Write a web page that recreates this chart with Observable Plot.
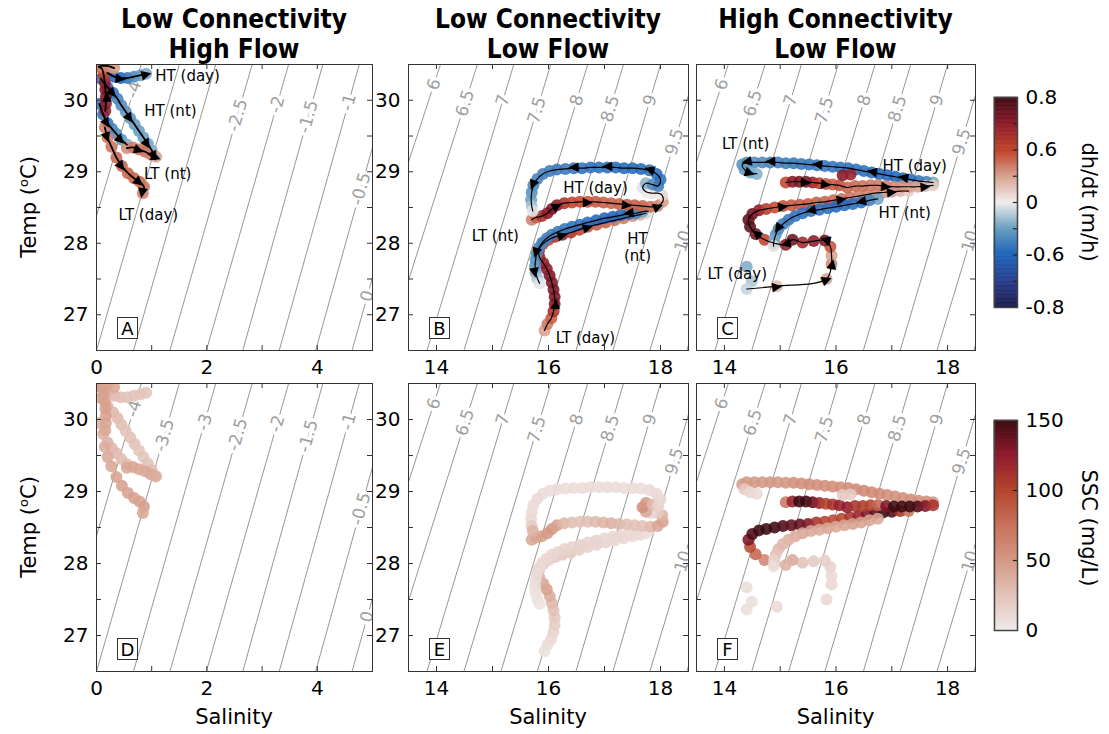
<!DOCTYPE html>
<html><head><meta charset="utf-8">
<script src="https://cdn.jsdelivr.net/npm/d3@7"></script>
<script src="https://cdn.jsdelivr.net/npm/@observablehq/plot@0.6"></script>
<style>
body{margin:0;background:#fff;}
#fig{position:relative;width:1109px;height:734px;overflow:hidden;background:#fff;font-family:"DejaVu Sans",sans-serif;color:#000;}
.title{position:absolute;text-align:center;font-weight:bold;font-family:"DejaVu Sans Condensed","DejaVu Sans",sans-serif;font-stretch:condensed;font-size:26px;line-height:30px;white-space:nowrap;}
.lab{position:absolute;font-size:21px;white-space:nowrap;transform:translate(-50%,-50%);}
.letter{position:absolute;border:1px solid #333;background:#fff;font-size:18px;width:19px;height:20px;line-height:21px;text-align:center;}
svg{overflow:visible;}
</style></head><body><div id="fig"></div>
<script>
// ---------------- data ----------------
const tempRange = [26.5, 30.5];
const tempTicks = [27, 28, 29, 30];
const tempMinor = [27, 27.5, 28, 28.5, 29, 29.5, 30];
const salRangeA = [0, 5];
const salRangeB = [13.5, 18.5];
const salTicksA = [0, 2, 4];
const salMinorA = [1, 2, 3, 4];
const salTicksB = [14, 16, 18];
const salMinorB = [14, 15, 16, 17, 18];

const titles = [["Low Connectivity", "High Flow"], ["Low Connectivity", "Low Flow"], ["High Connectivity", "Low Flow"]];
const panelLetters = ["A", "B", "C", "D", "E", "F"];

// isopycnals (sigma): salinity where each line meets T=30.5 (top) and T=26.5 (bottom), label temperature
const isoLevelsA = [-4, -3.5, -3, -2.5, -2, -1.5, -1, -0.5, 0];
const isoTopA = [0.81, 1.50, 2.16, 2.82, 3.48, 4.10, 4.76, 5.42, 6.08];
const isoBotA = [-0.72, 0.00, 0.67, 1.33, 1.99, 2.65, 3.31, 3.97, 4.63];
const isoLabTA = [30.15, 29.78, 29.96, 29.79, 29.94, 29.77, 29.97, 28.76, 27.26];
const isoShownA = [-4, -2.5, -2, -1.5, -1, -0.5, 0];
const isoShownD = [-4, -3.5, -3, -2.5, -2, -1.5, -1, -0.5, 0];
const isoLevelsB = [6, 6.5, 7, 7.5, 8, 8.5, 9, 9.5, 10, 10.5];
const isoTopB = [14.07, 14.73, 15.38, 16.04, 16.70, 17.34, 18.00, 18.66, 19.36, 20.02];
const isoBotB = [12.40, 13.10, 13.83, 14.49, 15.15, 15.80, 16.49, 17.15, 17.81, 18.47];
const isoLabTB = [30.22, 29.96, 30.0, 29.86, 30.0, 29.88, 30.0, 29.42, 28.03, 28.0];
const isoShownB = [6, 6.5, 7, 7.5, 8, 8.5, 9, 9.5, 10];

// tracks: [salinity, temp, dh/dt (m/h), SSC (mg/L), segment, arrowhead]
const trackA = [
[0.20,30.38,-0.40,38,2,0],[0.32,30.33,-0.58,30,2,0],[0.44,30.31,-0.60,28,2,1],[0.56,30.31,-0.52,26,2,0],
[0.68,30.33,-0.42,25,2,0],[0.80,30.35,-0.33,24,2,0],[0.90,30.37,-0.25,24,2,1],
[0.08,30.30,-0.52,40,3,0],[0.20,30.18,-0.56,35,3,0],[0.30,30.10,-0.52,32,3,1],[0.38,30.02,-0.45,30,3,0],
[0.45,29.93,-0.40,28,3,0],[0.53,29.84,-0.36,26,3,0],[0.61,29.75,-0.34,25,3,1],[0.69,29.66,-0.32,25,3,0],
[0.77,29.57,-0.30,24,3,0],[0.85,29.48,-0.30,24,3,0],[0.93,29.39,-0.28,25,3,1],[1.00,29.30,-0.25,28,3,0],
[1.05,29.22,-0.15,32,3,1],
[0.05,29.95,-0.50,35,4,0],[0.12,29.80,-0.52,35,4,0],[0.20,29.68,-0.50,35,4,1],[0.28,29.60,-0.45,32,4,0],
[0.36,29.53,-0.40,30,4,0],[0.45,29.45,-0.35,28,4,1],[0.55,29.38,-0.25,30,4,0],
[0.55,29.33,0.35,40,5,0],[0.66,29.34,0.42,42,5,0],[0.77,29.31,0.45,42,5,1],[0.88,29.28,0.45,40,5,0],
[0.98,29.24,0.40,40,5,0],[1.08,29.21,0.30,38,5,1],
[0.15,29.62,0.40,38,6,0],[0.20,29.48,0.42,40,6,1],[0.27,29.35,0.45,42,6,0],[0.36,29.20,0.48,45,6,0],
[0.46,29.08,0.50,45,6,1],[0.57,28.98,0.50,45,6,0],[0.68,28.91,0.50,45,6,0],[0.78,28.86,0.48,45,6,1],
[0.86,28.79,0.45,45,6,0],[0.84,28.70,0.40,42,6,1],
[0.16,29.85,0.68,40,1,0],[0.17,29.95,0.70,42,1,0],[0.17,30.05,0.72,44,1,1],[0.16,30.15,0.72,45,1,0],
[0.15,30.25,0.70,45,1,0],[0.13,30.35,0.62,45,1,0],[0.10,30.44,0.50,45,1,0],[0.04,30.47,0.42,46,1,0],
[0.20,30.48,0.38,44,1,0],[0.32,30.45,0.32,42,1,0]
];

const trackB = [
[15.93,26.78,0.30,6,1,0],[15.98,26.87,0.42,8,1,0],[16.05,26.95,0.52,10,1,0],[16.09,27.05,0.64,14,1,0],
[16.11,27.15,0.70,18,1,1],[16.11,27.25,0.72,22,1,0],[16.09,27.35,0.72,26,1,0],[16.06,27.45,0.72,32,1,0],
[16.02,27.55,0.72,38,1,0],[15.97,27.64,0.70,44,1,0],[15.91,27.72,0.70,42,1,0],[15.84,27.80,0.68,35,1,0],
[15.83,27.90,0.64,26,1,0],[15.90,27.99,0.60,20,1,0],[16.00,28.05,0.60,18,1,0],[16.12,28.09,0.64,20,1,0],
[16.25,28.12,0.68,22,1,1],[16.40,28.15,0.64,20,1,0],[16.55,28.19,0.60,18,1,0],[16.70,28.23,0.56,16,1,1],
[16.86,28.26,0.52,15,1,0],[17.02,28.29,0.50,14,1,0],[17.18,28.32,0.46,12,1,0],[17.34,28.35,0.42,12,1,0],
[17.50,28.38,0.36,10,1,0],[17.64,28.40,0.26,10,1,0],[17.74,28.42,0.12,8,1,0],
[17.78,28.45,-0.05,6,2,0],[17.68,28.44,-0.28,8,2,0],[17.56,28.42,-0.45,10,2,0],[17.43,28.41,-0.55,10,2,1],
[17.29,28.39,-0.58,12,2,0],[17.15,28.37,-0.60,12,2,0],[17.00,28.35,-0.60,12,2,0],[16.85,28.32,-0.58,14,2,0],
[16.70,28.29,-0.56,14,2,0],[16.56,28.26,-0.55,16,2,0],[16.42,28.23,-0.54,16,2,0],[16.29,28.20,-0.52,15,2,0],
[16.17,28.16,-0.50,14,2,0],[16.06,28.12,-0.48,13,2,0],[15.97,28.07,-0.46,12,2,0],[15.89,28.01,-0.44,12,2,0],
[15.83,27.94,-0.42,11,2,0],[15.79,27.86,-0.40,10,2,1],[15.77,27.77,-0.38,9,2,0],[15.76,27.68,-0.34,8,2,0],
[15.77,27.59,-0.28,7,2,1],[15.80,27.51,-0.16,6,2,0],[15.84,27.44,-0.04,5,2,0],
[15.70,28.33,0.40,40,3,0],[15.78,28.36,0.52,42,3,0],[15.88,28.38,0.64,45,3,0],[15.98,28.42,0.70,48,3,0],
[16.06,28.48,0.72,50,3,0],[16.15,28.53,0.70,45,3,1],[16.28,28.56,0.64,32,3,0],[16.42,28.57,0.60,28,3,0],
[16.56,28.58,0.58,26,3,0],[16.70,28.58,0.56,28,3,1],[16.84,28.58,0.54,30,3,0],[16.98,28.57,0.52,34,3,0],
[17.12,28.56,0.50,36,3,0],[17.26,28.55,0.50,32,3,0],[17.40,28.54,0.52,28,3,1],[17.54,28.53,0.52,26,3,0],
[17.68,28.52,0.50,26,3,0],[17.82,28.51,0.46,30,3,0],[17.95,28.52,0.40,40,3,1],[18.04,28.58,0.32,45,3,0],
[18.03,28.67,0.10,35,3,0],[17.95,28.70,0.00,20,3,0],[17.84,28.70,0.04,12,3,0],[17.74,28.72,0.02,40,3,0],
[17.68,28.78,-0.04,55,3,0],[17.74,28.84,-0.22,50,3,0],[17.86,28.82,-0.40,30,3,0],[17.96,28.80,-0.48,15,3,0],
[18.00,28.89,-0.52,12,3,0],[17.93,28.97,-0.55,10,3,0],[17.80,29.02,-0.56,10,3,1],[17.65,29.04,-0.58,9,3,0],
[17.50,29.05,-0.58,9,3,0],[17.35,29.05,-0.58,9,3,0],[17.20,29.06,-0.57,9,3,0],[17.05,29.06,-0.56,9,3,1],
[16.90,29.06,-0.55,9,3,0],[16.75,29.06,-0.54,9,3,0],[16.60,29.05,-0.53,9,3,0],[16.45,29.05,-0.52,9,3,1],
[16.30,29.04,-0.51,9,3,0],[16.15,29.03,-0.50,9,3,0],[16.02,29.01,-0.48,9,3,0],[15.90,28.97,-0.46,9,3,0],
[15.80,28.90,-0.44,10,3,0],[15.73,28.81,-0.42,10,3,1],[15.70,28.71,-0.38,10,3,0],[15.69,28.61,-0.30,12,3,0],
[15.70,28.52,-0.16,20,3,0],[15.72,28.45,-0.04,35,3,0]
];

const trackC = [
[14.40,27.67,-0.25,8,0,0],[14.49,27.47,-0.15,8,0,0],
[14.40,27.36,-0.10,8,1,0],[14.94,27.40,0.20,10,1,1],[15.83,27.50,0.30,12,1,1],[15.92,27.71,0.38,12,1,1],
[15.92,27.83,0.30,10,1,0],[15.90,27.95,0.55,15,1,0],[15.80,28.04,0.72,18,1,1],[15.60,28.03,0.70,20,1,0],
[15.40,28.01,0.66,25,1,0],[15.22,28.05,0.74,40,1,0],[15.10,27.98,0.70,35,1,1],[14.90,28.00,0.50,30,1,0],
[14.72,28.05,0.60,60,1,0],[14.56,28.13,0.74,80,1,1],[14.46,28.23,0.76,95,1,0],[14.43,28.33,0.76,130,1,0],
[14.50,28.41,0.74,145,1,0],[14.62,28.46,0.70,150,1,0],[14.75,28.48,0.62,150,1,0],[14.90,28.50,0.58,150,1,0],
[15.05,28.52,0.56,145,1,1],[15.20,28.53,0.54,140,1,0],[15.35,28.54,0.54,140,1,0],[15.50,28.55,0.54,130,1,0],
[15.65,28.57,0.52,110,1,0],[15.80,28.58,0.50,100,1,0],[15.95,28.60,0.48,95,1,0],[16.10,28.62,0.46,100,1,1],
[16.25,28.64,0.45,110,1,0],[16.40,28.66,0.42,120,1,0],[16.55,28.68,0.40,130,1,0],[16.70,28.70,0.38,140,1,0],
[16.85,28.71,0.35,150,1,0],[17.00,28.72,0.30,145,1,1],[17.15,28.73,0.22,110,1,0],[17.30,28.73,0.12,70,1,0],
[16.75,28.62,-0.28,40,2,0],[16.60,28.60,-0.45,42,2,0],[16.45,28.57,-0.54,45,2,1],[16.30,28.55,-0.56,45,2,0],
[16.15,28.53,-0.58,42,2,0],[16.00,28.51,-0.58,40,2,0],[15.85,28.49,-0.56,40,2,0],[15.70,28.47,-0.55,40,2,0],
[15.55,28.45,-0.55,40,2,1],[15.40,28.42,-0.54,40,2,0],[15.27,28.38,-0.52,38,2,0],[15.15,28.33,-0.50,35,2,0],
[15.05,28.27,-0.48,32,2,0],[14.97,28.20,-0.44,30,2,1],[14.92,28.12,-0.38,25,2,0],[14.89,28.04,-0.26,15,2,0],
[14.88,27.96,-0.05,8,2,0],
[17.74,28.85,-0.28,50,3,0],[17.62,28.86,-0.45,55,3,0],[17.48,28.87,-0.52,55,3,0],[17.34,28.89,-0.56,55,3,0],
[17.20,28.91,-0.58,55,3,1],[17.06,28.93,-0.60,55,3,0],[16.92,28.95,-0.60,55,3,0],[16.78,28.97,-0.58,58,3,0],
[16.64,28.99,-0.56,60,3,1],[16.50,29.01,-0.55,60,3,0],[16.36,29.03,-0.54,58,3,0],[16.22,29.05,-0.54,58,3,0],
[16.08,29.06,-0.52,56,3,0],[15.94,29.07,-0.52,56,3,0],[15.80,29.08,-0.52,55,3,0],[15.66,29.09,-0.51,55,3,1],
[15.52,29.10,-0.51,55,3,0],[15.38,29.11,-0.51,55,3,0],[15.24,29.12,-0.50,55,3,0],[15.10,29.12,-0.48,52,3,0],
[14.96,29.13,-0.46,50,3,0],[14.82,29.13,-0.44,50,3,1],[14.68,29.13,-0.42,50,3,0],[14.54,29.13,-0.40,50,3,0],
[14.40,29.13,-0.38,50,3,1],[14.32,29.10,-0.36,48,3,0],[14.36,29.03,-0.33,20,3,0],[14.46,28.99,-0.28,12,3,1],
[14.58,28.97,-0.24,10,3,0],
[15.10,28.85,0.58,70,4,0],[15.22,28.86,0.70,120,4,0],[15.34,28.86,0.72,150,4,0],[15.46,28.86,0.72,150,4,1],
[15.58,28.85,0.68,140,4,0],[15.70,28.84,0.62,120,4,0],[15.82,28.83,0.56,100,4,1],[15.94,28.82,0.52,110,4,0],
[16.06,28.81,0.55,120,4,0],[16.20,28.78,0.50,125,4,0],[16.34,28.80,0.48,110,4,0],[16.48,28.80,0.46,105,4,0],
[16.62,28.81,0.44,100,4,0],[16.76,28.81,0.42,80,4,0],[16.90,28.80,0.40,130,4,1],[17.04,28.79,0.38,150,4,0],
[17.18,28.79,0.35,150,4,0],[17.32,28.79,0.32,150,4,0],[17.46,28.79,0.28,145,4,0],[17.60,28.80,0.22,130,4,1],
[17.74,28.81,0.15,110,4,0],
[16.12,28.95,0.70,20,0,0],[16.26,28.96,0.68,20,0,0]
];

// in-panel annotations: [text, salinity, temp]
const notesA = [["HT (day)", 1.65, 30.35], ["HT (nt)", 1.34, 29.86], ["LT (nt)", 1.29, 28.98], ["LT (day)", 0.94, 28.40]];
const notesB = [["HT (day)", 16.84, 28.78], ["LT (nt)", 15.05, 28.11], ["HT\n(nt)", 17.59, 27.95], ["LT (day)", 16.66, 26.68]];
const notesC = [["LT (nt)", 14.38, 29.40], ["HT (day)", 17.41, 29.09], ["HT (nt)", 17.23, 28.43], ["LT (day)", 14.23, 27.58]];

// colour scales
const dhStops = [-0.8, -0.7, -0.6, -0.3, 0, 0.3, 0.6, 0.7, 0.8];
const dhColors = ["#1b1c47", "#283c8e", "#2064ba", "#6a9fc0", "#f1eeee", "#d8a290", "#c0432b", "#8c1a2a", "#3c0a12"];
const dhBarPos = [-0.8, -0.6, 0, 0.6, 0.8];
const dhBarLabels = ["-0.8", "-0.6", "0", "0.6", "0.8"];
const dhBarMinor = [-0.7, -0.6, -0.3, 0, 0.3, 0.6, 0.7];
const sscStops = [0, 25, 50, 75, 100, 125, 150];
const sscColors = ["#efeaea", "#e3c3b9", "#d49883", "#c8705a", "#b5432c", "#8f1a2c", "#3c0a12"];
const sscBarTicks = [0, 50, 100, 150];
const sscBarMinor = [50, 100];

// ---------------- layout ----------------
const fig = document.getElementById("fig");
const cols = [{left: 96, W: 276}, {left: 408, W: 280}, {left: 696, W: 279}];
const rows = [{top: 64, H: 286}, {top: 383, H: 288}];
const ML = 60, MR = 12, MT = 12, MB = 50;

function place(el, x, y) { el.style.position = "absolute"; el.style.left = x + "px"; el.style.top = y + "px"; fig.appendChild(el); }

function panel(ci, ri) {
  const {left, W} = cols[ci];
  const {top, H} = rows[ri];
  const isA = ci === 0;
  const xDom = isA ? salRangeA : salRangeB;
  const track = [trackA, trackB, trackC][ci];
  const vIdx = ri === 0 ? 2 : 3;
  const lev = isA ? isoLevelsA : isoLevelsB, topS = isA ? isoTopA : isoTopB, botS = isA ? isoBotA : isoBotB, labT = isA ? isoLabTA : isoLabTB;
  const shown = isA ? (ri === 0 ? isoShownA : isoShownD) : isoShownB;
  const pxS = W / (xDom[1] - xDom[0]), pxT = H / (tempRange[1] - tempRange[0]);
  const isoRows = [];
  lev.forEach((lv, i) => { isoRows.push({lv, S: botS[i], T: tempRange[0]}); isoRows.push({lv, S: topS[i], T: tempRange[1]}); });
  const labRows = [];
  lev.forEach((lv, i) => {
    if (!shown.includes(lv)) return;
    const t = labT[i];
    const S = botS[i] + (t - tempRange[0]) / (tempRange[1] - tempRange[0]) * (topS[i] - botS[i]);
    const ang = -Math.atan2((tempRange[1] - tempRange[0]) * pxT, (topS[i] - botS[i]) * pxS) * 180 / Math.PI;
    labRows.push({S, T: t, txt: String(lv), ang});
  });
  const arrows = [];
  track.forEach((d, i) => {
    if (!d[5]) return;
    const prev = (i > 0 && track[i - 1][4] === d[4]) ? track[i - 1] : d;
    const next = (i < track.length - 1 && track[i + 1][4] === d[4]) ? track[i + 1] : d;
    const dx = (next[0] - prev[0]) * pxS, dy = -(next[1] - prev[1]) * pxT;
    arrows.push({S: d[0], T: d[1], ang: Math.atan2(dy, dx) * 180 / Math.PI});
  });
  const notes = [notesA, notesB, notesC][ci];
  const xMinor = isA ? salMinorA : salMinorB;
  const xLab = isA ? salTicksA : salTicksB;
  const tl = 5;
  const color = ri === 0
    ? {type: "linear", domain: dhStops, range: dhColors, clamp: true}
    : {type: "linear", domain: sscStops, range: sscColors, clamp: true};
  const top0 = ri === 0;
  const svg = Plot.plot({
    width: W + ML + MR, height: H + MT + MB,
    marginLeft: ML, marginRight: MR, marginTop: MT, marginBottom: MB,
    x: {domain: xDom}, y: {domain: tempRange}, color,
    style: {background: "transparent", overflow: "visible", fontFamily: "DejaVu Sans", fontSize: "20px"},
    marks: [
      Plot.line(isoRows, {x: "S", y: "T", z: "lv", stroke: "#8a8a8a", strokeWidth: 0.9, clip: true}),
      Plot.text(labRows, {x: "S", y: "T", text: "txt", rotate: "ang", fill: "#a0a0a0", stroke: "white", strokeWidth: 7, paintOrder: "stroke", fontSize: 17, clip: true}),
      Plot.dot(track, {x: d => d[0], y: d => d[1], r: 6, fill: d => d[vIdx], fillOpacity: 0.88, clip: true}),
      top0 ? Plot.line(track.filter(d => d[4] > 0), {x: d => d[0], y: d => d[1], z: d => d[4], curve: "catmull-rom", stroke: "black", strokeWidth: isA ? 1.8 : 1.2}) : null,
      top0 ? Plot.text(arrows, {x: "S", y: "T", text: () => "\u25B6", rotate: "ang", fill: "black", fontSize: 13, fontFamily: "DejaVu Sans"}) : null,
      top0 ? Plot.text(notes, {x: d => d[1], y: d => d[2], text: d => d[0], fontSize: 15, fill: "black", lineHeight: 1.15}) : null,
      Plot.ruleX(xMinor, {x: d => d, y1: tempRange[0], y2: tempRange[0] + tl / pxT, stroke: "#333"}),
      Plot.ruleX(xMinor, {x: d => d, y1: tempRange[1] - tl / pxT, y2: tempRange[1], stroke: "#333"}),
      Plot.ruleY(tempMinor, {y: d => d, x1: xDom[0], x2: xDom[0] + tl / pxS, stroke: "#333"}),
      Plot.ruleY(tempMinor, {y: d => d, x1: xDom[1] - tl / pxS, x2: xDom[1], stroke: "#333"}),
      Plot.axisX(xLab, {tickSize: 0, tickPadding: 9, label: null, fontSize: 20, tickFormat: d => String(d)}),
      Plot.axisY(tempTicks, {tickSize: 0, tickPadding: 8, label: null, fontSize: 20, tickFormat: ci < 2 ? (d => String(d)) : (() => "")}),
      Plot.frame({stroke: "#333", strokeWidth: 1})
    ]
  });
  place(svg, left - ML, top - MT);
  const lt = document.createElement("div");
  lt.className = "letter";
  lt.textContent = panelLetters[ri * 3 + ci];
  place(lt, left + 21, top + H - 33);
}

for (let ri = 0; ri < 2; ri++) for (let ci = 0; ci < 3; ci++) panel(ci, ri);

// titles
titles.forEach((t, ci) => {
  const d = document.createElement("div");
  d.className = "title";
  d.style.width = "320px";
  d.innerHTML = t[0] + "<br>" + t[1];
  place(d, cols[ci].left + cols[ci].W / 2 - 160, 4);
});
// axis labels
function label(html, x, y, rot) {
  const d = document.createElement("div");
  d.className = "lab";
  d.innerHTML = html;
  place(d, x, y);
  d.style.transform = "translate(-50%,-50%) rotate(" + rot + "deg)";
}
rows.forEach(r => label("Temp (<span style='font-size:13px;vertical-align:8px'>o</span>C)", 28, r.top + r.H / 2, -90));
cols.forEach(c => label("Salinity", c.left + c.W / 2, 717, 0));
label("dh/dt (m/h)", 1089, 202, 90);
label("SSC (mg/L)", 1089, 528, 90);

// colour bars
function colorbar(top, H, yDomain, color, values, tickPos, tickLab, minor) {
  const W = 23, ml = 0, mr = 50, mt = 12, mb = 12;
  const n = yDomain.length;
  const yRange = yDomain.map((v, i) => mt + H - H * i / (n - 1));
  const stripes = [];
  for (let i = 0; i < values.length - 1; i++) stripes.push([values[i], values[i + 1]]);
  const svg = Plot.plot({
    width: W + ml + mr, height: H + mt + mb, marginLeft: ml, marginRight: mr, marginTop: mt, marginBottom: mb,
    x: {domain: [0, 1], axis: null},
    y: {type: "linear", domain: yDomain, range: yRange, axis: null},
    color,
    style: {background: "transparent", overflow: "visible", fontFamily: "DejaVu Sans", fontSize: "20px"},
    marks: [
      Plot.rect(stripes, {x1: 0, x2: 1, y1: d => d[0], y2: d => d[1], fill: d => (d[0] + d[1]) / 2, stroke: d => (d[0] + d[1]) / 2, strokeWidth: 0.6}),
      Plot.ruleY(minor, {y: d => d, x1: 0.82, x2: 1, stroke: "#222", strokeWidth: 1.2}),
      Plot.text(tickPos, {x: 1, y: (d, i) => d, text: (d, i) => tickLab[i], dx: 8, textAnchor: "start", fontSize: 20, fill: "black"}),
      Plot.frame({stroke: "#444", strokeWidth: 1.5})
    ]
  });
  place(svg, 994 - ml, top - mt);
}
const dhVals = [];
for (let k = 0; k <= 320; k++) dhVals.push(-0.8 + k * 0.005);
colorbar(97, 210, dhBarPos, {type: "linear", domain: dhStops, range: dhColors, clamp: true}, dhVals, dhBarPos, dhBarLabels, dhBarMinor);
const sscVals = [];
for (let k = 0; k <= 300; k++) sscVals.push(k * 0.5);
colorbar(420, 210, [0, 150], {type: "linear", domain: sscStops, range: sscColors, clamp: true}, sscVals, sscBarTicks, sscBarTicks.map(String), sscBarMinor);
</script></body></html>
